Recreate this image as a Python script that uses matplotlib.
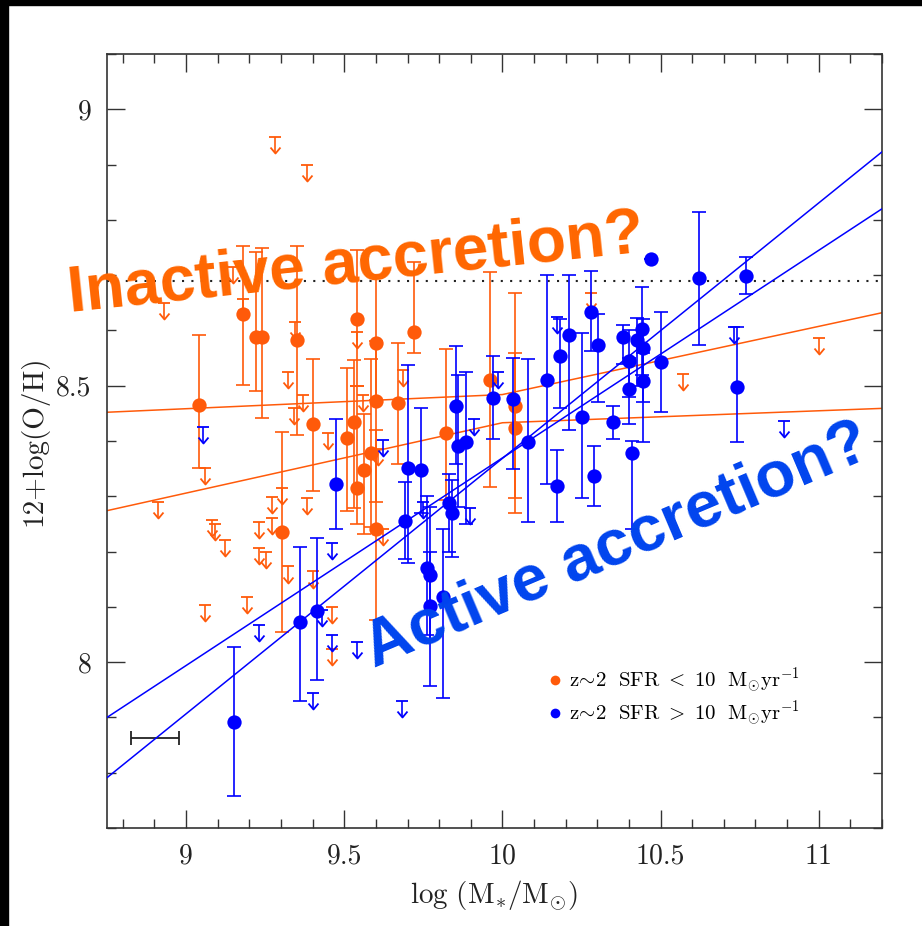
import numpy as np
import matplotlib
matplotlib.use('Agg')
import matplotlib.pyplot as plt
from matplotlib.path import Path
from matplotlib.lines import Line2D
from matplotlib.patches import Rectangle
from matplotlib.ticker import MultipleLocator, FuncFormatter

plt.rcParams['mathtext.fontset'] = 'cm'
plt.rcParams['axes.formatter.use_mathtext'] = True
plt.rcParams['font.family'] = ['cmr10', 'DejaVu Serif']

# ---------------- data ----------------
# z~2, SFR < 10 Msun/yr : detections (x, y, lower end, upper end of error bar)
org_x = [9.041, 9.180, 9.221, 9.240, 9.351, 9.401, 9.540, 9.600, 9.600, 9.670, 9.531,
         9.509, 9.585, 9.563, 9.540, 9.303, 9.600, 9.721, 9.961, 10.040, 10.040, 9.822]
org_y = [8.466, 8.629, 8.589, 8.589, 8.582, 8.430, 8.621, 8.578, 8.473, 8.468, 8.435,
         8.405, 8.379, 8.347, 8.315, 8.236, 8.241, 8.598, 8.511, 8.464, 8.424, 8.415]
org_lo = [8.352, 8.502, 8.491, 8.441, 8.410, 8.310, 8.499, 8.475, 8.290, 8.359, 8.279,
          8.274, 8.244, 8.231, 8.250, 8.055, 8.077, 8.560, 8.316, 8.296, 8.270, 8.294]
org_hi = [8.592, 8.753, 8.741, 8.750, 8.753, 8.549, 8.746, 8.700, 8.580, 8.578, 8.546,
          8.532, 8.549, 8.449, 8.499, 8.417, 8.420, 8.724, 8.706, 8.667, 8.560, 8.567]

# z~2, SFR < 10 : upper limits
org_ul_x = [9.281, 9.382, 8.930, 9.148, 9.180, 9.345, 9.322, 9.370, 9.341, 9.449, 9.559,
            9.540, 9.060, 8.911, 9.082, 9.092, 9.123, 9.230, 9.272, 9.272, 9.230, 9.253,
            9.303, 9.382, 9.322, 9.401, 9.623, 9.607, 9.060, 9.193, 9.461, 9.461, 9.686,
            10.280, 10.571, 11.001]
org_ul_y = [8.950, 8.900, 8.650, 8.715, 8.657, 8.616, 8.525, 8.484, 8.460, 8.415, 8.484,
            8.598, 8.352, 8.290, 8.258, 8.250, 8.221, 8.254, 8.299, 8.261, 8.207, 8.200,
            8.315, 8.297, 8.173, 8.164, 8.240, 8.385, 8.104, 8.117, 8.100, 8.023, 8.529,
            8.668, 8.522, 8.587]

# z~2, SFR > 10 Msun/yr : detections
blu_x = [9.151, 9.360, 9.414, 9.474, 9.702, 9.743, 9.692, 9.853, 9.860, 9.885, 9.831,
         9.841, 9.762, 9.771, 9.771, 9.812, 9.970, 10.033, 10.081, 10.141, 10.173, 10.182,
         10.210, 10.252, 10.280, 10.302, 10.290, 10.350, 10.381, 10.400, 10.400, 10.410,
         10.426, 10.441, 10.444, 10.444, 10.502, 10.470, 10.622, 10.770, 10.742]
blu_y = [7.891, 8.072, 8.093, 8.323, 8.352, 8.347, 8.255, 8.464, 8.391, 8.398, 8.287,
         8.270, 8.171, 8.157, 8.101, 8.118, 8.478, 8.476, 8.398, 8.511, 8.318, 8.554,
         8.592, 8.444, 8.634, 8.574, 8.336, 8.434, 8.589, 8.545, 8.494, 8.379,
         8.583, 8.603, 8.568, 8.508, 8.542, 8.730, 8.695, 8.699, 8.498]
blu_lo = [7.757, 7.930, 7.968, 8.241, 8.180, 8.270, 8.186, 8.358, 8.280, 8.249, 8.200,
          8.190, 8.050, 8.040, 7.956, 7.936, 8.403, 8.350, 8.254, 8.322, 8.253, 8.460,
          8.420, 8.296, 8.562, 8.470, 8.282, 8.404, 8.540, 8.480, 8.430, 8.240,
          8.500, 8.520, 8.470, 8.398, 8.452, 8.730, 8.574, 8.665, 8.398]
blu_hi = [8.027, 8.209, 8.224, 8.440, 8.538, 8.460, 8.325, 8.571, 8.520, 8.524, 8.340,
          8.330, 8.300, 8.280, 8.200, 8.240, 8.553, 8.551, 8.548, 8.701, 8.383, 8.620,
          8.701, 8.596, 8.707, 8.629, 8.391, 8.464, 8.609, 8.600, 8.550, 8.400,
          8.622, 8.678, 8.620, 8.560, 8.634, 8.730, 8.815, 8.733, 8.607]

# z~2, SFR > 10 : upper limits
blu_ul_x = [9.053, 9.230, 9.461, 9.540, 9.401, 9.430, 9.683, 9.461, 9.623, 9.910,
            9.986, 9.898, 9.749, 10.173, 10.732, 10.890]
blu_ul_y = [8.425, 8.068, 8.050, 8.036, 7.945, 8.095, 7.929, 8.216, 8.402, 8.439,
            8.525, 8.279, 8.289, 8.625, 8.607, 8.437]

# relations
org_fit_x = [8.75, 10.0, 11.2]
org_fit_upper = [8.452, 8.484, 8.632]
org_fit_lower = [8.274, 8.433, 8.459]
blu_fit_x = [8.75, 11.2]
blu_fit_a = [7.900, 8.820]
blu_fit_b = [7.791, 8.923]
solar_oh = 8.69

# typical mass uncertainty
err_x, err_y, err_dx = 8.902, 7.862, 0.076

legend_labels = [r'$\mathrm{z\!\sim\!2\ \ SFR\ <\ 10\ \ M_{\odot}yr^{-1}}$',
                 r'$\mathrm{z\!\sim\!2\ \ SFR\ >\ 10\ \ M_{\odot}yr^{-1}}$']

# ---------------- style ----------------
ORANGE = '#FF5A0A'
BLUE = '#0000FF'
ul_len = 0.029
vpath = Path([(-1.0, 1.2), (0.0, 0.0), (1.0, 1.2)],
             [Path.MOVETO, Path.LINETO, Path.LINETO])

fig = plt.figure(figsize=(9.22, 9.26), dpi=100)
fig.patches.append(Rectangle((0, 1 - 5 / 926), 1, 5 / 926, transform=fig.transFigure,
                             color='black', zorder=0))
fig.patches.append(Rectangle((0, 0), 8 / 922, 1, transform=fig.transFigure,
                             color='black', zorder=0))

ax = fig.add_axes([107 / 922, 98 / 926, 775 / 922, 774 / 926])
ax.set_xlim(8.75, 11.2)
ax.set_ylim(7.7, 9.1)


def upper_limits(xs, ys, color, z):
    xs = np.asarray(xs)
    ys = np.asarray(ys)
    ax.vlines(xs, ys - ul_len, ys, color=color, lw=1.2, zorder=z)
    ax.plot(xs, ys, ls='none', marker='_', ms=8, mew=1.3, color=color, zorder=z)
    ax.plot(xs, ys - ul_len, ls='none', marker=vpath, ms=8.6, mfc='none',
            mec=color, mew=1.3, zorder=z)


def detections(xs, ys, lo, hi, color, z):
    xs = np.asarray(xs)
    ys = np.asarray(ys)
    yerr = [ys - np.asarray(lo), np.asarray(hi) - ys]
    eb = ax.errorbar(xs, ys, yerr=yerr, fmt='none', ecolor=color,
                     elinewidth=1.2, capsize=4.7, capthick=1.2, zorder=z)
    ax.plot(xs, ys, ls='none', marker='o', ms=10.3, color=color, mew=0, zorder=z)


# fits
ax.plot(org_fit_x, org_fit_upper, color=ORANGE, lw=1.1, zorder=2)
ax.plot(org_fit_x, org_fit_lower, color=ORANGE, lw=1.1, zorder=2)
ax.plot(blu_fit_x, blu_fit_a, color=BLUE, lw=1.1, zorder=5)
ax.plot(blu_fit_x, blu_fit_b, color=BLUE, lw=1.1, zorder=5)
ax.axhline(solar_oh, color='#222222', lw=1.5, ls=(0, (1, 3.5)), zorder=1)

upper_limits(org_ul_x, org_ul_y, ORANGE, 3)
detections(org_x, org_y, org_lo, org_hi, ORANGE, 3)
upper_limits(blu_ul_x, blu_ul_y, BLUE, 4)
detections(blu_x, blu_y, blu_lo, blu_hi, BLUE, 4)

ax.errorbar([err_x], [err_y], xerr=[err_dx], fmt='none', ecolor='#222222',
            elinewidth=1.3, capsize=5, capthick=1.3)

# annotations
ax.text(8.633, 8.634, 'Inactive accretion?', rotation=6, rotation_mode='anchor',
        ha='left', va='baseline', fontsize=46, fontweight='bold',
        family='Liberation Sans', color='#FF6600', clip_on=False, zorder=10)
ax.text(9.594, 7.990, 'Active accretion?', rotation=23, rotation_mode='anchor',
        ha='left', va='baseline', fontsize=47, fontweight='bold',
        family='Liberation Sans', color='#0044EE', clip_on=False, zorder=10)

# legend
handles = [Line2D([], [], ls='none', marker='o', ms=7, color=ORANGE, mew=0),
           Line2D([], [], ls='none', marker='o', ms=7, color=BLUE, mew=0)]
ax.legend(handles, legend_labels, loc='center left', bbox_to_anchor=(0.567, 0.169),
          frameon=False, handlelength=0.8, handletextpad=0.3, labelspacing=0.15,
          borderpad=0, borderaxespad=0, fontsize=15)

# axes
ax.xaxis.set_major_locator(MultipleLocator(0.5))
ax.xaxis.set_minor_locator(MultipleLocator(0.1))
ax.yaxis.set_major_locator(MultipleLocator(0.5))
ax.yaxis.set_minor_locator(MultipleLocator(0.1))
fmt = FuncFormatter(lambda v, p: f'{v:g}')
ax.xaxis.set_major_formatter(fmt)
ax.yaxis.set_major_formatter(fmt)
ax.tick_params(which='both', direction='in', top=True, right=True, color='#333333',
               labelsize=20, labelcolor='#222222')
ax.tick_params(which='major', length=13, width=1.0)
ax.tick_params(which='minor', length=6.5, width=1.0)
ax.tick_params(axis='x', pad=11)
ax.tick_params(axis='y', pad=11)
for s in ax.spines.values():
    s.set_color('#333333')
    s.set_linewidth(1.2)

ax.set_xlabel(r'$\mathrm{log\ (M_{*}/M_{\odot})}$', fontsize=21, color='#222222',
              labelpad=6)
ax.set_ylabel('12+log(O/H)', fontsize=21, color='#222222', labelpad=6)

fig.savefig('out.png', dpi=100)
